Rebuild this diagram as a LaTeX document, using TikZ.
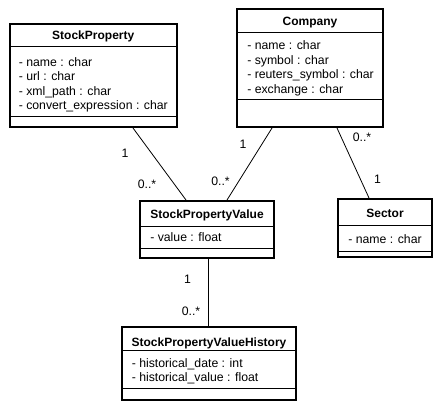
\documentclass[tikz,border=0pt]{standalone}
\usepackage{fontspec}
\setmainfont{Liberation Sans}
\usetikzlibrary{fit,calc}
\begin{document}
\begin{tikzpicture}[x=0.75pt,y=-0.75pt,
 classbox/.style={draw,line width=1.5pt,inner sep=0pt},
 sepline/.style={line width=0.75pt},
 title/.style={font=\fontsize{9}{11}\selectfont\bfseries,anchor=base,inner sep=0pt},
 attr/.style={font=\fontsize{9.2}{11}\selectfont,anchor=base west,inner sep=0pt},
 mult/.style={font=\fontsize{9.2}{11}\selectfont,anchor=base,inner sep=0pt},
 assoc/.style={line width=0.6pt}]
\useasboundingbox (0,0) rectangle (441,410);

% StockProperty
\node[classbox,fit={(9.5,24) (177,127)}] (sp) {};
\draw[sepline] (9.5,47) -- (177,47);
\draw[sepline] (9.5,116) -- (177,116);
\node[title] (spt) at (93.25,39.5) {StockProperty};
\node[attr] (spa1) at (18.5,66) {- name : char};
\node[attr] (spa2) at (18.5,80.6) {- url : char};
\node[attr] (spa3) at (18.5,95.2) {- xml\_path : char};
\node[attr] (spa4) at (18.5,109.8) {- convert\_expression : char};

% Company
\node[classbox,fit={(237,9.5) (383,127)}] (co) {};
\draw[sepline] (237,33) -- (383,33);
\draw[sepline] (237,99) -- (383,99);
\node[title] (cot) at (310,26) {Company};
\node[attr] (coa1) at (247,49.5) {- name : char};
\node[attr] (coa2) at (247,64.2) {- symbol : char};
\node[attr] (coa3) at (247,78.9) {- reuters\_symbol : char};
\node[attr] (coa4) at (247,93.6) {- exchange : char};

% StockPropertyValue
\node[classbox,fit={(140,201) (274,258)}] (spv) {};
\draw[sepline] (140,226) -- (274,226);
\draw[sepline] (140,248) -- (274,248);
\node[title] (spvt) at (207,218) {StockPropertyValue};
\node[attr] (spva1) at (150,241.5) {- value : float};

% Sector
\node[classbox,fit={(338,199) (432,257)}] (se) {};
\draw[sepline] (338,225) -- (432,225);
\draw[sepline] (338,251) -- (432,251);
\node[title] (set) at (385,217) {Sector};
\node[attr] (sea1) at (348,243) {- name : char};

% StockPropertyValueHistory
\node[classbox,fit={(122,327) (296,400)}] (spvh) {};
\draw[sepline] (122,350) -- (296,350);
\draw[sepline] (122,388) -- (296,388);
\node[title] (spvht) at (209,346) {StockPropertyValueHistory};
\node[attr] (spvha1) at (131.5,367) {- historical\_date : int};
\node[attr] (spvha2) at (131.5,381) {- historical\_value : float};

% associations
\draw[assoc] ([xshift=29.8pt]sp.south) -- ([xshift=-15.75pt]spv.north);
\draw[assoc] ([xshift=-28.5pt]co.south) -- ([xshift=15pt]spv.north);
\draw[assoc] ([xshift=20.25pt]co.south) -- ([xshift=-12pt]se.north);
\draw[assoc] ([xshift=0.75pt]spv.south) -- ([xshift=0.75pt]spv.south |- spvh.north);

% multiplicities
\node[mult] (m1) at (125,157) {1};
\node[mult] (m2) at (147,188) {0..*};
\node[mult] (m3) at (243,148) {1};
\node[mult] (m4) at (220.5,185) {0..*};
\node[mult] (m5) at (362,141.5) {0..*};
\node[mult] (m6) at (377.5,183) {1};
\node[mult] (m7) at (187.5,283) {1};
\node[mult] (m8) at (191,315) {0..*};
\end{tikzpicture}
\end{document}
